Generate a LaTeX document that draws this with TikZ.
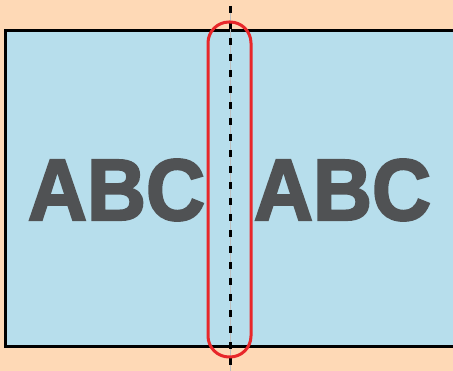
\documentclass[tikz,border=0pt]{standalone}
\usepackage{fontspec}
\setmainfont{Liberation Sans}
\newfontfamily\heavyfont[FakeBold=2.6]{Liberation Sans Bold}
\usepackage{xcolor}
\usetikzlibrary{positioning}
\definecolor{peach}{RGB}{254,217,182}
\definecolor{sheet}{RGB}{183,222,236}
\definecolor{inkgrey}{RGB}{80,82,84}
\definecolor{foldred}{RGB}{232,39,42}
\tikzset{
  sheetbox/.style ={draw=black, fill=sheet, line width=3pt},
  bigtxt/.style   ={font=\fontsize{87}{87}\selectfont\heavyfont, text=inkgrey,
                    inner sep=0pt, xscale=0.94, transform shape},
  foldline/.style ={draw=black, line width=3pt, dash pattern=on 7pt off 9pt},
  hairline/.style ={draw=black!25, line width=0.8pt},
  foldmark/.style ={draw=foldred, line width=3pt, rounded corners=21pt},
}
\begin{document}
\begin{tikzpicture}[x=1pt,y=-1pt]
\useasboundingbox (0,0) rectangle (453,371);
\clip (0,0) rectangle (453,371);
\fill[peach] (0,0) rectangle (453,371);

% sheet, runs off the right edge
\draw[sheetbox] (5,31) rectangle (470,347);

% the two words
\node[bigtxt] (abcL) at (116.5,190) {ABC};
\node[bigtxt] (abcR) at (342.5,190) {ABC};

% fold axis
\coordinate (top) at (230,6);
\coordinate (bot) at (230,371);
\draw[hairline] (top) -- (bot);
\draw[foldline] (top) -- (bot);

% marked strip round the fold
\draw[foldmark] (208,22) rectangle (251,357);
\end{tikzpicture}
\end{document}
